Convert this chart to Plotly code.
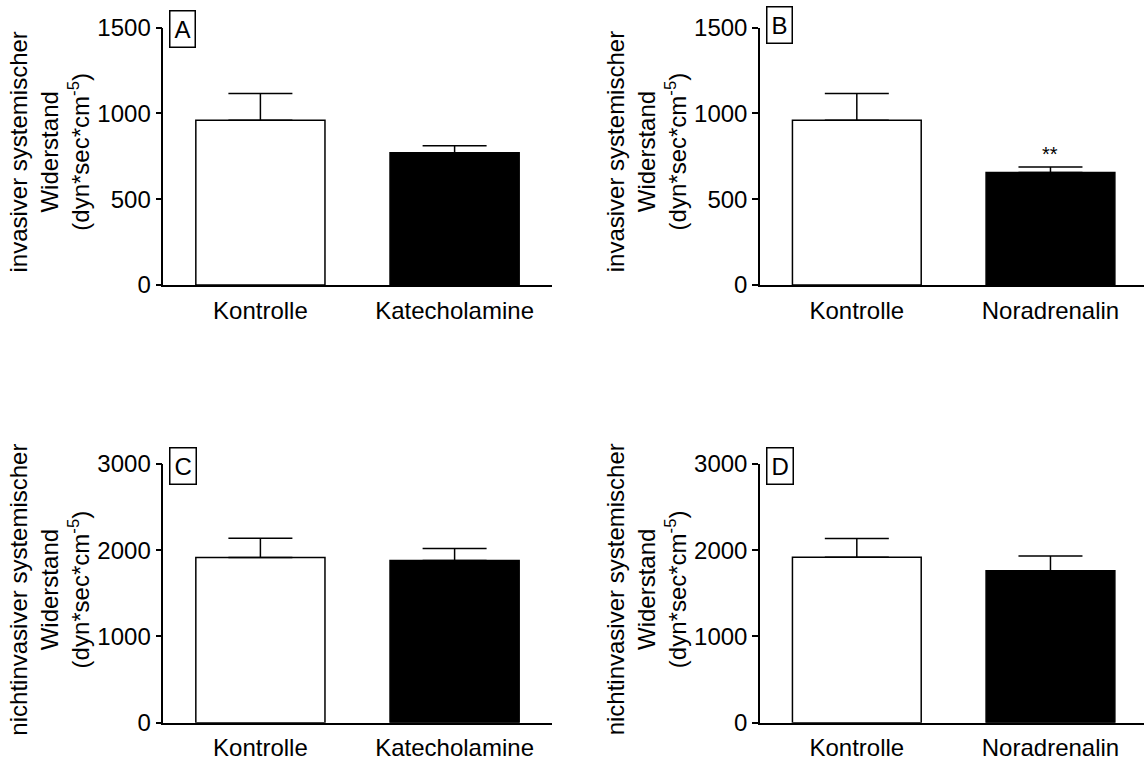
import plotly.graph_objects as go

# ---------------- data ----------------
cats_kat = ["Kontrolle", "Katecholamine"]
cats_nor = ["Kontrolle", "Noradrenalin"]

inv_kat_mean = [959, 771]
inv_kat_sem = [156, 40]
inv_nor_mean = [959, 655]
inv_nor_sem = [156, 33]

nonin_kat_mean = [1917, 1882]
nonin_kat_sem = [223, 139]
nonin_nor_mean = [1920, 1763]
nonin_nor_sem = [217, 169]

ticks_inv = [0, 500, 1000, 1500]
ticks_nonin = [0, 1000, 2000, 3000]

panel_letters = ["A", "B", "C", "D"]
title_inv = "invasiver systemischer<br>Widerstand<br>(dyn*sec*cm<sup>-5</sup>)"
title_nonin = "nichtinvasiver systemischer<br>Widerstand<br>(dyn*sec*cm<sup>-5</sup>)"
signif_text = "**"

# ---------------- layout geometry ----------------
W, H = 1144, 760
FONT = "Liberation Sans, Arial, sans-serif"
bar_colors = ["white", "black"]

panels = [
    dict(cats=cats_kat, mean=inv_kat_mean, sem=inv_kat_sem, ticks=ticks_inv, ymax=1500,
         xl=163.3, xr=551.7, rng=1.5, yt=27.5, yb=285, title=title_inv, box_top=10),
    dict(cats=cats_nor, mean=inv_nor_mean, sem=inv_nor_sem, ticks=ticks_inv, ymax=1500,
         xl=760, xr=1144, rng=1.483, yt=27.5, yb=285, title=title_inv, box_top=6),
    dict(cats=cats_kat, mean=nonin_kat_mean, sem=nonin_kat_sem, ticks=ticks_nonin, ymax=3000,
         xl=163.3, xr=551.7, rng=1.5, yt=464, yb=722.7, title=title_nonin, box_top=447),
    dict(cats=cats_nor, mean=nonin_nor_mean, sem=nonin_nor_sem, ticks=ticks_nonin, ymax=3000,
         xl=760, xr=1144, rng=1.483, yt=464, yb=722.7, title=title_nonin, box_top=447),
]

fig = go.Figure()
annotations = []
layout_axes = {}

for i, p in enumerate(panels):
    n = "" if i == 0 else str(i + 1)
    xa, ya = "x" + n, "y" + n
    fig.add_trace(go.Bar(
        x=p["cats"], y=p["mean"],
        xaxis=xa, yaxis=ya,
        width=0.665,
        marker=dict(color=bar_colors, line=dict(color="black", width=1.5)),
        error_y=dict(type="data", symmetric=False, array=p["sem"],
                     arrayminus=[0] * len(p["sem"]),
                     color="black", thickness=1.5, width=32),
        showlegend=False, hoverinfo="skip",
    ))
    layout_axes["xaxis" + n] = dict(
        domain=[p["xl"] / W, min(p["xr"] / W, 1.0)],
        range=[-0.5, p["rng"]], anchor=ya, automargin=False,
        type="category", categoryorder="array", categoryarray=p["cats"],
        showline=True, linecolor="black", linewidth=1.5,
        ticks="", showgrid=False, zeroline=False,
        tickfont=dict(size=24, color="black", family=FONT),
        ticklabelstandoff=3,
    )
    layout_axes["yaxis" + n] = dict(
        domain=[(H - p["yb"]) / H, (H - p["yt"]) / H],
        range=[0, p["ymax"]], anchor=xa, automargin=False,
        tickmode="array", tickvals=p["ticks"],
        showline=True, linecolor="black", linewidth=1.5,
        ticks="outside", ticklen=6, tickwidth=1.5, tickcolor="black",
        showgrid=False, zeroline=False,
        tickfont=dict(size=24, color="black", family=FONT),
    )
    annotations.append(dict(
        text=p["title"], xref="paper", yref="paper",
        x=(p["xl"] - 114) / W, y=(H - ((p["yt"] + p["yb"]) / 2 - 4)) / H,
        xanchor="center", yanchor="middle", textangle=-90, showarrow=False,
        font=dict(size=24, color="black", family=FONT),
    ))
    annotations.append(dict(
        text=panel_letters[i], xref="paper", yref="paper",
        x=(p["xl"] + 6) / W, y=(H - p["box_top"]) / H,
        xanchor="left", yanchor="top", showarrow=False,
        bordercolor="black", borderwidth=1.5, borderpad=4, bgcolor="white",
        font=dict(size=24, color="black", family=FONT),
    ))

annotations.append(dict(
    text=signif_text, xref="x2", yref="y2",
    x=cats_nor[1], y=inv_nor_mean[1] + inv_nor_sem[1],
    xanchor="center", yanchor="bottom", yshift=0, showarrow=False,
    font=dict(size=20, color="black", family=FONT),
))

fig.update_layout(
    template="none",
    width=W, height=H, autosize=False,
    margin=dict(l=0, r=0, t=0, b=0, pad=0),
    paper_bgcolor="white", plot_bgcolor="white",
    font=dict(family=FONT, color="black"),
    annotations=annotations,
    **layout_axes,
)

fig.write_html("out.html", config={"displayModeBar": False},
               post_script="document.body.style.margin='0px';")
